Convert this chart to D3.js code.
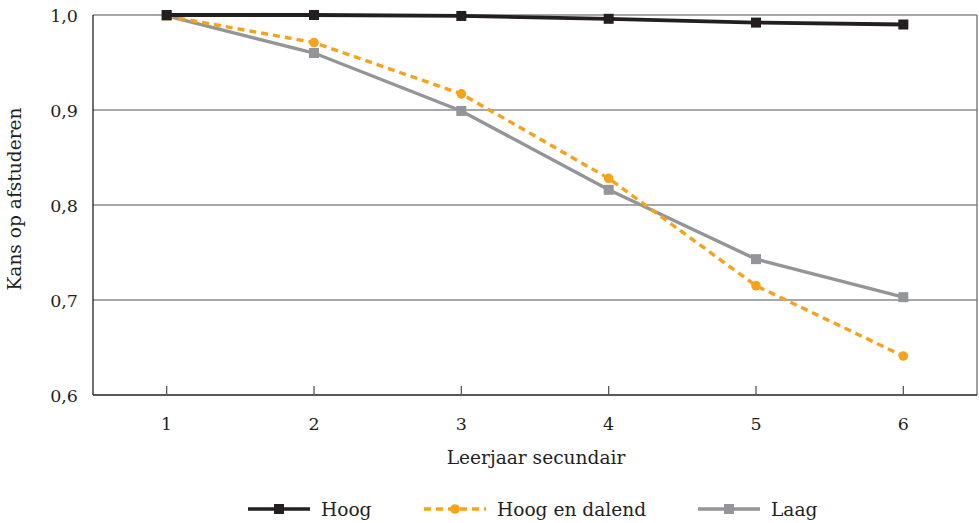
<!DOCTYPE html>
<html><head><meta charset="utf-8">
<script src="https://cdn.jsdelivr.net/npm/d3@7"></script>
<style>body{margin:0;background:#fff}svg{display:block}text{font-family:"DejaVu Serif",serif;fill:#231f20}</style>
</head><body><svg id="c" width="979" height="523"></svg>
<script>
const categories = ["1","2","3","4","5","6"];
const hoog = [1.000, 1.000, 0.999, 0.996, 0.992, 0.990];
const hoogDalend = [0.999, 0.971, 0.917, 0.828, 0.715, 0.641];
const laag = [0.999, 0.960, 0.899, 0.816, 0.743, 0.703];
const yTicks = [0.6, 0.7, 0.8, 0.9, 1.0];
const seriesNames = ["Hoog", "Hoog en dalend", "Laag"];

const svg = d3.select("#c");
const L = 93, R = 977, T = 15, B = 395;
const x = d3.scaleBand().domain(categories).range([L, R]);
const cx = d => x(d) + x.bandwidth() / 2;
const y = d3.scaleLinear().domain([0.6, 1.0]).range([B, T]);
const fmt = v => d3.format(".1f")(v).replace(".", ",");

// gridlines
svg.append("g").selectAll("line").data(yTicks.filter(v => v > 0.6)).join("line")
  .attr("x1", L).attr("x2", R).attr("y1", d => y(d)).attr("y2", d => y(d))
  .attr("stroke", "#8a8a8c").attr("stroke-width", 1.3);
// right border
svg.append("line").attr("x1", R).attr("x2", R).attr("y1", T).attr("y2", B).attr("stroke", "#6d6e71").attr("stroke-width", 1.3);
// left axis
svg.append("line").attr("x1", L).attr("x2", L).attr("y1", T).attr("y2", B).attr("stroke", "#231f20").attr("stroke-width", 1.3);
// bottom axis
svg.append("line").attr("x1", L).attr("x2", R).attr("y1", B).attr("y2", B).attr("stroke", "#231f20").attr("stroke-width", 1.5);
// x ticks
svg.append("g").selectAll("line").data(categories).join("line")
  .attr("x1", d => cx(d)).attr("x2", d => cx(d)).attr("y1", B).attr("y2", B - 9)
  .attr("stroke", "#58595b").attr("stroke-width", 1.3);
// x tick labels
svg.append("g").selectAll("text").data(categories).join("text")
  .attr("x", d => cx(d)).attr("y", 430).attr("text-anchor", "middle").attr("font-size", 17.5).text(d => d);
// y tick labels
svg.append("g").selectAll("text").data(yTicks).join("text")
  .attr("x", 78).attr("y", d => y(d) + 6.5).attr("text-anchor", "end").attr("font-size", 17.5).text(fmt);
// axis titles
svg.append("text").attr("x", 536).attr("y", 464).attr("text-anchor", "middle").attr("font-size", 18.6).text("Leerjaar secundair");
svg.append("text").attr("transform", "translate(21,199) rotate(-90)").attr("text-anchor", "middle").attr("font-size", 18.6).text("Kans op afstuderen");

const line = d3.line().x((d, i) => cx(categories[i])).y(d => y(d));
// Laag
svg.append("path").datum(laag).attr("d", line).attr("fill", "none").attr("stroke", "#939598").attr("stroke-width", 3.4);
svg.append("g").selectAll("rect").data(laag).join("rect")
  .attr("x", (d, i) => cx(categories[i]) - 5).attr("y", d => y(d) - 5).attr("width", 10).attr("height", 10).attr("fill", "#939598");
// Hoog en dalend
svg.append("path").datum(hoogDalend).attr("d", line).attr("fill", "none").attr("stroke", "#f7a21b").attr("stroke-width", 3.4).attr("stroke-dasharray", "7,5");
svg.append("g").selectAll("circle").data(hoogDalend).join("circle")
  .attr("cx", (d, i) => cx(categories[i])).attr("cy", d => y(d)).attr("r", 4.8).attr("fill", "#f7a21b");
// Hoog
svg.append("path").datum(hoog).attr("d", line).attr("fill", "none").attr("stroke", "#231f20").attr("stroke-width", 3.8);
svg.append("g").selectAll("rect").data(hoog).join("rect")
  .attr("x", (d, i) => cx(categories[i]) - 5).attr("y", d => y(d) - 5).attr("width", 10).attr("height", 10).attr("fill", "#231f20");

// legend
const lg = svg.append("g");
const legendItems = [
  {name: seriesNames[0], x: 248, color: "#231f20", dash: null, mark: "sq"},
  {name: seriesNames[1], x: 424, color: "#f7a21b", dash: "7,5", mark: "ci"},
  {name: seriesNames[2], x: 698, color: "#939598", dash: null, mark: "sq"}
];
const ly = 509;
legendItems.forEach(it => {
  lg.append("line").attr("x1", it.x).attr("x2", it.x + 62).attr("y1", ly).attr("y2", ly)
    .attr("stroke", it.color).attr("stroke-width", 3.4).attr("stroke-dasharray", it.dash);
  if (it.mark === "sq") lg.append("rect").attr("x", it.x + 26).attr("y", ly - 5).attr("width", 10).attr("height", 10).attr("fill", it.color);
  else lg.append("circle").attr("cx", it.x + 31).attr("cy", ly).attr("r", 4.8).attr("fill", it.color);
  lg.append("text").attr("x", it.x + 73).attr("y", ly + 6.5).attr("font-size", 18.6).text(it.name);
});
</script></body></html>
